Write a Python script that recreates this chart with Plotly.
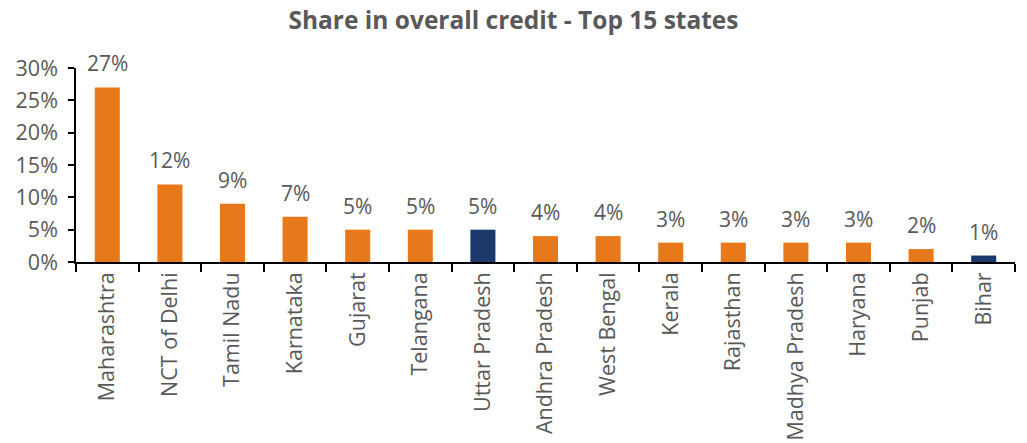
import plotly.graph_objects as go

states = ["Maharashtra", "NCT of Delhi", "Tamil Nadu", "Karnataka", "Gujarat",
          "Telangana", "Uttar Pradesh", "Andhra Pradesh", "West Bengal", "Kerala",
          "Rajasthan", "Madhya Pradesh", "Haryana", "Punjab", "Bihar"]
share_pct = [27, 12, 9, 7, 5, 5, 5, 4, 4, 3, 3, 3, 3, 2, 1]
highlighted = {"Uttar Pradesh", "Bihar"}

ORANGE = "#E8791A"
NAVY = "#1B3A6B"
GREY = "#595959"
FONT = "'Open Sans', Lato, sans-serif"

colors = [NAVY if s in highlighted else ORANGE for s in states]
shares = [v / 100 for v in share_pct]

fig = go.Figure(go.Bar(
    x=states,
    y=shares,
    marker=dict(color=colors, line=dict(width=0)),
    width=0.4,
    cliponaxis=False,
))

# value labels sitting a little above each bar
for s, v in zip(states, shares):
    fig.add_annotation(
        x=s, y=v, text=f"{round(v * 100)}%",
        showarrow=False, yanchor="bottom", yshift=8,
        font=dict(size=21, color=GREY, family=FONT),
    )

fig.update_layout(
    width=1027, height=443,
    margin=dict(l=76, r=12, t=68, b=181),
    plot_bgcolor="white", paper_bgcolor="white",
    title=dict(text="<b>Share in overall credit - Top 15 states</b>",
               x=0.5, xanchor="center", y=0.955, yanchor="middle",
               font=dict(size=24.5, color=GREY, family=FONT),
               automargin=False),
    showlegend=False,
    font=dict(family=FONT, color=GREY),
)

fig.update_xaxes(
    tickangle=-90, tickfont=dict(size=21.5, color=GREY, family=FONT),
    showline=True, linecolor="black", linewidth=1.5,
    ticks="outside", tickson="boundaries", ticklen=8, tickcolor="black", tickwidth=1.5,
    showgrid=False, automargin=False,
)
fig.update_yaxes(
    range=[0, 0.30], dtick=0.05, tickformat=".0%",
    tickfont=dict(size=21.5, color=GREY, family=FONT),
    showline=True, linecolor="black", linewidth=1.5,
    ticks="outside", ticklen=6, tickcolor="black", tickwidth=1.5,
    ticklabelstandoff=6,
    showgrid=False, zeroline=False, automargin=False,
)

fig.write_html("out.html")
